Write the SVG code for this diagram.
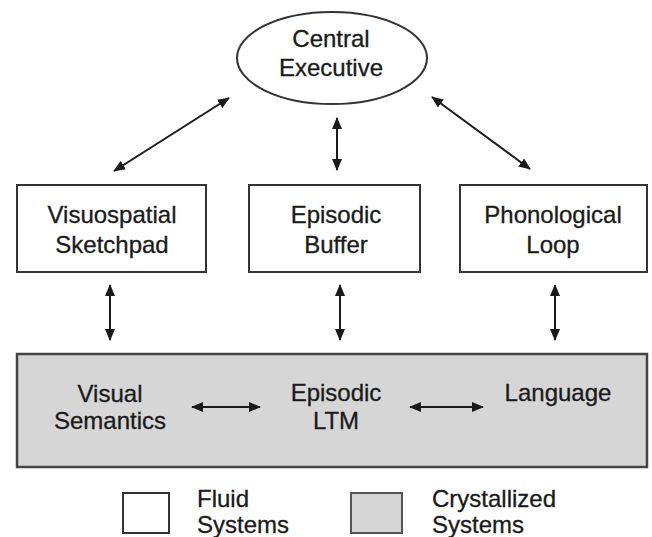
<svg xmlns="http://www.w3.org/2000/svg" width="652" height="537" viewBox="0 0 652 537">
<defs>
<marker id="ah" viewBox="0 0 12 10" refX="11" refY="5" markerWidth="6" markerHeight="5" markerUnits="strokeWidth" orient="auto-start-reverse">
<path d="M0,0 L12,5 L0,10 z" fill="#1a1a1a"/>
</marker>
<style>
text{font-family:"Liberation Sans",Arial,sans-serif;font-size:24px;fill:#1a1a1a;stroke:#1a1a1a;stroke-width:0.3;text-anchor:middle}
.box{fill:#fff;stroke:#333;stroke-width:2}
.gray{fill:#d6d6d6;stroke:#444;stroke-width:2.5}
.arr{stroke:#1a1a1a;stroke-width:2;fill:none;marker-start:url(#ah);marker-end:url(#ah)}
.leg{text-anchor:start}
</style>
</defs>
<rect width="652" height="537" fill="#fff"/>
<g id="central">
<ellipse cx="332" cy="58" rx="95" ry="46" class="box"/>
<text x="331" y="47">Central</text>
<text x="331" y="76">Executive</text>
</g>
<g id="visuospatial">
<rect x="17" y="185" width="189" height="87" class="box"/>
<text x="112" y="223">Visuospatial</text>
<text x="112" y="253">Sketchpad</text>
</g>
<g id="buffer">
<rect x="249" y="185" width="171" height="87" class="box"/>
<text x="336" y="223">Episodic</text>
<text x="336" y="253">Buffer</text>
</g>
<g id="phonological">
<rect x="460" y="185" width="187" height="87" class="box"/>
<text x="553" y="223">Phonological</text>
<text x="553" y="253">Loop</text>
</g>
<g id="crystallized">
<rect x="17" y="354" width="630" height="113" class="gray"/>
<text x="110" y="402">Visual</text>
<text x="110" y="429">Semantics</text>
<text x="336" y="401">Episodic</text>
<text x="336" y="429">LTM</text>
<text x="558" y="401">Language</text>
</g>
<g id="legend">
<rect x="123" y="493" width="46" height="40" class="box"/>
<text class="leg" x="197" y="507">Fluid</text>
<text class="leg" x="197" y="533">Systems</text>
<rect x="351" y="493" width="51" height="40" fill="#d6d6d6" stroke="#555" stroke-width="2"/>
<text class="leg" x="432" y="507">Crystallized</text>
<text class="leg" x="432" y="533">Systems</text>
</g>
<g id="connectors">
<line x1="114" y1="171" x2="229" y2="98" class="arr"/>
<line x1="337" y1="118" x2="337" y2="170" class="arr"/>
<line x1="432" y1="97" x2="530" y2="169" class="arr"/>
<line x1="110" y1="285" x2="110" y2="340" class="arr"/>
<line x1="340" y1="285" x2="340" y2="340" class="arr"/>
<line x1="555" y1="285" x2="555" y2="340" class="arr"/>
<line x1="192" y1="407" x2="260" y2="407" class="arr"/>
<line x1="410" y1="407" x2="483" y2="407" class="arr"/>
</g>
</svg>
